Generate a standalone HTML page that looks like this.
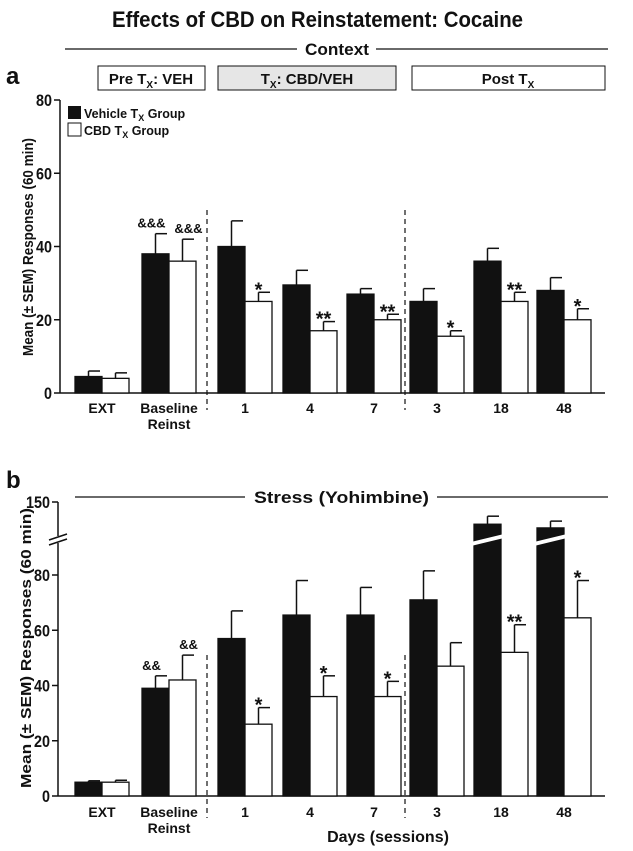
<!DOCTYPE html>
<html><head><meta charset="utf-8">
<style>
body{margin:0;background:#fff;}
svg{display:block;font-family:"Liberation Sans",Arial,sans-serif;}
text{font-weight:bold;fill:#111;}
</style></head>
<body>
<svg id="chart" width="633" height="851" viewBox="0 0 633 851">
<text x="112" y="27" font-size="22" textLength="411" lengthAdjust="spacingAndGlyphs">Effects of CBD on Reinstatement: Cocaine</text>
<g>
<line x1="65" y1="49" x2="297" y2="49" stroke="#111" stroke-width="1.3"/>
<line x1="376" y1="49" x2="608" y2="49" stroke="#111" stroke-width="1.3"/>
<text x="305" y="55" font-size="17" textLength="64" lengthAdjust="spacingAndGlyphs">Context</text>
</g>
<g><rect x="98" y="66" width="107" height="24" fill="#fff" stroke="#111"/><text x="151" y="84" text-anchor="middle" font-size="15">Pre T<tspan font-size="10" dy="4">X</tspan><tspan dy="-4">: VEH</tspan></text></g>
<g><rect x="218" y="66" width="178" height="24" fill="#e6e6e6" stroke="#111"/><text x="307" y="84" text-anchor="middle" font-size="15">T<tspan font-size="10" dy="4">X</tspan><tspan dy="-4">: CBD/VEH</tspan></text></g>
<g><rect x="412" y="66" width="193" height="24" fill="#fff" stroke="#111"/><text x="508" y="84" text-anchor="middle" font-size="15">Post T<tspan font-size="10" dy="4">X</tspan></text></g>
<text x="6" y="84" font-size="24">a</text>
<text x="6" y="488" font-size="24">b</text>
<g>
<line x1="75" y1="497" x2="245" y2="497" stroke="#111" stroke-width="1.3"/>
<line x1="437" y1="497" x2="608" y2="497" stroke="#111" stroke-width="1.3"/>
<text x="254" y="503" font-size="17" textLength="175" lengthAdjust="spacingAndGlyphs">Stress (Yohimbine)</text>
</g>
<g>
<rect x="68" y="106" width="13" height="13" fill="#111"/><text x="84" y="118" font-size="12.5">Vehicle T<tspan font-size="9" dy="3">X</tspan><tspan dy="-3"> Group</tspan></text>
<rect x="68" y="123" width="13" height="13" fill="#fff" stroke="#111"/><text x="84" y="135" font-size="12.5">CBD T<tspan font-size="9" dy="3">X</tspan><tspan dy="-3"> Group</tspan></text>
</g>
<text x="388" y="842" text-anchor="middle" font-size="16">Days (sessions)</text>
<g id="plots"></g>
</svg>
<script>
const categories=["EXT","Baseline","1","4","7","3","18","48"];
const catLabels2=["","Reinst","","","","","",""];
const vehA=[4.5,38,40,29.5,27,25,36,28];
const vehAErr=[1.5,5.5,7,4,1.5,3.5,3.5,3.5];
const cbdA=[4,36,25,17,20,15.5,25,20];
const cbdAErr=[1.5,6,2.5,2.5,1.5,1.5,2.5,3];
const sigA=["","&&&","*","**","**","*","**","*"];
const sigAVeh=["","&&&","","","","","",""];
const vehB=[5,39,57,65.5,65.5,71,114,108];
const vehBErr=[0.5,4.5,10,12.5,10,10.5,13,11];
const cbdB=[5,42,26,36,36,47,52,64.5];
const cbdBErr=[0.7,9,6,7.5,5.5,8.5,10,13.5];
const sigB=["","&&","*","*","*","","**","*"];
const sigBVeh=["","&&","","","","","",""];
const ticksA=[0,20,40,60,80];
const ticksB=[0,20,40,60,80,150];

const NS="http://www.w3.org/2000/svg";
const root=document.getElementById('plots');
function mk(tag,attrs,parent){const e=document.createElementNS(NS,tag);for(const k in attrs)e.setAttribute(k,attrs[k]);(parent||root).appendChild(e);return e;}
const groupX=[75,142,218,283,347,410,474,537];
const bw=27;
function xL(i){return groupX[i];}

function drawPanel(cfg){
  const g=mk('g',{});
  
  
  const y=cfg.y;
  mk('line',{x1:cfg.ax,y1:y(cfg.ticks[cfg.ticks.length-1]),x2:cfg.ax,y2:y(0),stroke:'#111','stroke-width':1.5},g);
  mk('line',{x1:cfg.ax,y1:y(0),x2:605,y2:y(0),stroke:'#111','stroke-width':1.5},g);
  cfg.ticks.forEach(t=>{
    mk('line',{x1:cfg.ax-6,y1:y(t),x2:cfg.ax,y2:y(t),stroke:'#111','stroke-width':1.5},g);
    const s=String(t);
    const tx=mk('text',{x:cfg.ax-8-s.length*8,y:y(t)+6,'font-size':17,textLength:s.length*8,lengthAdjust:'spacingAndGlyphs'},g);
    tx.textContent=s;
    
    
  });
  [207,405].forEach(dx=>mk('line',{x1:dx,y1:cfg.dashTop,x2:dx,y2:cfg.dashBot,stroke:'#111','stroke-width':1.2,'stroke-dasharray':'5,4'},g));
  const yt=mk('text',{x:-cfg.ylen/2,y:0,'font-size':15,textLength:cfg.ylen,lengthAdjust:'spacingAndGlyphs',transform:`translate(${cfg.ytx},${cfg.yty}) rotate(-90)`},g);
  yt.textContent='Mean (\u00b1 SEM) Responses (60 min)';
  
  
  categories.forEach((c,i)=>{
    const x0=xL(i);
    [[cfg.veh,cfg.vehErr,'#111',0,cfg.sigVeh],[cfg.cbd,cfg.cbdErr,'#fff',bw,cfg.sig]].forEach(([vals,errs,fill,off,sig],s)=>{
      const v=vals[i],e=errs[i];
      const bx=x0+off, top=y(v), et=y(v+e);
      mk('line',{x1:bx+bw/2,y1:et,x2:bx+bw/2,y2:top,stroke:'#111','stroke-width':1.5},g);
      mk('line',{x1:bx+bw/2,y1:et,x2:bx+bw-2,y2:et,stroke:'#111','stroke-width':1.5},g);
      const r=mk('rect',{x:bx,y:top,width:bw,height:y(0)-top,fill:fill,stroke:'#111','stroke-width':1.3},g);
      
      
      if(cfg.brk>0 && v>90){
        const b=cfg.brk;
        mk('path',{d:`M${bx-3} ${b+3} L${bx+bw+3} ${b-5} L${bx+bw+3} ${b-1} L${bx-3} ${b+7} Z`,fill:'#ffffff',stroke:'none'},g);
      }
      if(sig[i]){
        const amp=sig[i].startsWith('&');
        const st=mk('text',{x:bx+bw/2+(amp?(s?6:-4):0),y:et-(amp?6:4)+(amp?0:8),'text-anchor':'middle','font-size':amp?13:20},g);
        st.textContent=sig[i];
        
        
      }
    });
    const lx=x0+bw;
    const l1=mk('text',{x:lx,y:cfg.labY,'text-anchor':'middle','font-size':14},g);
    l1.textContent=c;
    
    
    if(catLabels2[i]){const l2=mk('text',{x:lx,y:cfg.labY+16,'text-anchor':'middle','font-size':14},g);l2.textContent=catLabels2[i];}
  });
  if(cfg.brk>0){
    const by=cfg.brk;
    mk('rect',{x:cfg.ax-2,y:by-3,width:4,height:7,fill:'#ffffff'},g);
    mk('line',{x1:cfg.ax-9,y1:by+1,x2:cfg.ax+9,y2:by-5,stroke:'#111','stroke-width':1.5},g);
    mk('line',{x1:cfg.ax-9,y1:by+6,x2:cfg.ax+9,y2:by,stroke:'#111','stroke-width':1.5},g);
  }
}
function yA(v){return 393-v*(293/80);}
function yB(v){ if(v<=90) return 796-v*(221/80); return 539-(v-90)*(37/60);}
drawPanel({name:'panel-a-chart',y:yA,ticks:ticksA,ax:60,veh:vehA,vehErr:vehAErr,cbd:cbdA,cbdErr:cbdAErr,sig:sigA,sigVeh:sigAVeh,dashTop:210,dashBot:410,labY:413,ytx:33,yty:247,ylen:218,brk:0});
drawPanel({name:'panel-b-chart',y:yB,ticks:ticksB,ax:58,veh:vehB,vehErr:vehBErr,cbd:cbdB,cbdErr:cbdBErr,sig:sigB,sigVeh:sigBVeh,dashTop:655,dashBot:818,labY:817,ytx:31,yty:648,ylen:280,brk:539});
</script>
</body></html>
